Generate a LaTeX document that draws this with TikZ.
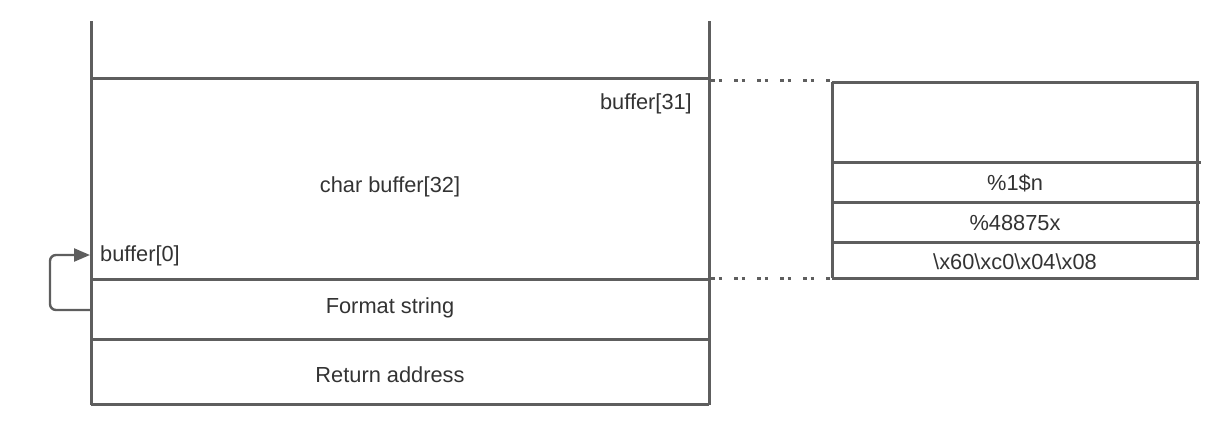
\documentclass[tikz,border=0pt]{standalone}
\usepackage{fontspec}
\setmainfont{Liberation Sans}
\usetikzlibrary{arrows.meta}
\definecolor{lc}{HTML}{5E5E5E}
\definecolor{tc}{HTML}{333333}
\begin{document}
\begin{tikzpicture}[x=1pt,y=-1pt,
  wall/.style={draw=lc,line width=3pt},
  dotline/.style={draw=lc,line width=3pt,dash pattern=on 3.5pt off 4pt on 3.5pt off 12pt},
  lbl/.style={text=tc,font=\fontsize{21.8}{25}\selectfont,inner sep=0pt},
  loop/.style={draw=lc,line width=2.4pt,rounded corners=6pt,-{Triangle[length=16pt,width=13pt]}}]
\useasboundingbox (0,0) rectangle (1221,426);
% stack
\coordinate (ltop) at (91,21);
\coordinate (lbot) at (91,405);
\coordinate (rtop) at (709,21);
\coordinate (rbot) at (709,405);
\draw[wall] (ltop) -- (lbot);
\draw[wall] (rtop) -- (rbot);
\coordinate (h1l) at (91,78);  \coordinate (h1r) at (709,78);
\coordinate (h2l) at (91,279); \coordinate (h2r) at (709,279);
\coordinate (h3l) at (91,339); \coordinate (h3r) at (709,339);
\coordinate (h4l) at (91,404); \coordinate (h4r) at (709,404);
\draw[wall] (h1l) -- (h1r);
\draw[wall] (h2l) -- (h2r);
\draw[wall] (h3l) -- (h3r);
\draw[wall] (h4l) -- (h4r);
% labels
\node[lbl,anchor=east] (b31) at (692,104) {buffer[31]};
\node[lbl] (cb) at (390,187) {char buffer[32]};
\node[lbl,anchor=west] (b0) at (100,256) {buffer[0]};
\node[lbl] (fs) at (390,307.5) {Format string};
\node[lbl] (ra) at (390,375) {Return address};
% loop arrow
\coordinate (ls) at (91,310);
\coordinate (le) at (90,255);
\draw[loop] (ls) -- (50,310) -- (50,255) -- (le);
% right box
\coordinate (bl1) at (832,82);  \coordinate (br1) at (1199,82);
\coordinate (bl2) at (832,162); \coordinate (br2) at (1201,162);
\coordinate (bl3) at (832,202); \coordinate (br3) at (1200,202);
\coordinate (bl4) at (832,242); \coordinate (br4) at (1200,242);
\coordinate (bl5) at (832,278); \coordinate (br5) at (1199,278);
\draw[wall] (bl1) -- (bl5);
\draw[wall] (1197,82) -- (1197,278);
\draw[wall] (bl1) -- (br1);
\draw[wall] (bl2) -- (br2);
\draw[wall] (bl3) -- (br3);
\draw[wall] (bl4) -- (br4);
\draw[wall] (bl5) -- (br5);
\node[lbl] (n1) at (1015,183) {\%1\$n};
\node[lbl] (n2) at (1015,223) {\%48875x};
\node[lbl] (n3) at (1015,262) {\textbackslash x60\textbackslash xc0\textbackslash x04\textbackslash x08};
% dotted connectors
\draw[dotline] (711,80) -- (832,80);
\draw[dotline] (711,278) -- (832,278);
\end{tikzpicture}
\end{document}
